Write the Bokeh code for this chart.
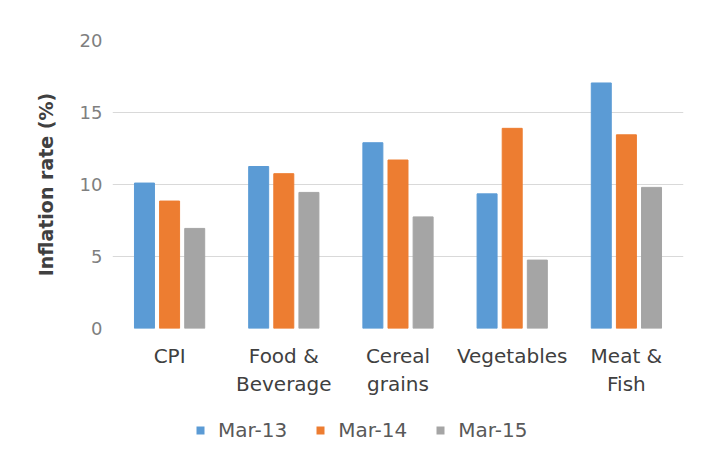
from bokeh.plotting import figure
from bokeh.models import ColumnDataSource, Range1d, FactorRange, Legend, LegendItem, FixedTicker
from bokeh.layouts import column
from bokeh.transform import dodge
from bokeh.embed import file_html
from bokeh.resources import INLINE

categories = ["CPI", "Food &\nBeverage", "Cereal\ngrains", "Vegetables", "Meat &\nFish"]
mar13 = [10.1, 11.25, 12.9, 9.35, 17.05]
mar14 = [8.85, 10.75, 11.7, 13.9, 13.45]
mar15 = [6.95, 9.45, 7.75, 4.75, 9.8]
series_names = ["Mar-13", "Mar-14", "Mar-15"]
y_ticks = [0, 5, 10, 15, 20]

colors = ["#5B9BD5", "#ED7D31", "#A5A5A5"]
font = "DejaVu Sans"

src = ColumnDataSource(dict(cat=categories, m13=mar13, m14=mar14, m15=mar15))

p = figure(width=696, height=399, x_range=FactorRange(*categories, range_padding=0),
           y_range=Range1d(0, 20), output_backend="svg", toolbar_location=None,
           min_border_left=112, min_border_right=13, min_border_top=40, min_border_bottom=64)
p.outline_line_color = None
p.background_fill_color = "white"
p.border_fill_color = "white"

for key, off, col in zip(["m13", "m14", "m15"], [-0.22, 0.0, 0.22], colors):
    p.vbar(x=dodge("cat", off, range=p.x_range), top=key, width=0.175, source=src,
           fill_color=col, line_color=col, line_width=1)

p.xgrid.grid_line_color = None
p.ygrid.grid_line_color = "#d9d9d9"
p.ygrid.grid_line_width = 1.2
p.yaxis.ticker = FixedTicker(ticks=y_ticks)

for ax in (p.xaxis[0], p.yaxis[0]):
    ax.axis_line_color = None
    ax.major_tick_line_color = None
    ax.minor_tick_line_color = None

p.yaxis.major_label_text_font = font
p.yaxis.major_label_text_font_size = "18px"
p.yaxis.major_label_text_color = "#7f7f7f"
p.yaxis.major_label_standoff = 4
p.yaxis.axis_label = "Inflation rate (%)"
p.yaxis.axis_label_text_font = font
p.yaxis.axis_label_text_font_size = "19px"
p.yaxis.axis_label_text_font_style = "bold"
p.yaxis.axis_label_text_color = "#404040"
p.yaxis.axis_label_standoff = 20

p.xaxis.major_label_text_font = font
p.xaxis.major_label_text_font_size = "20px"
p.xaxis.major_label_text_color = "#404040"
p.xaxis.major_label_standoff = 9

# legend in a separate strip below the chart (swatch-only helper glyphs of zero height)
lg = figure(width=696, height=49, x_range=Range1d(0, 1), y_range=Range1d(0, 1),
            x_axis_type=None, y_axis_type=None, output_backend="svg", toolbar_location=None,
            min_border=0)
lg.outline_line_color = None
lg.xgrid.grid_line_color = None
lg.ygrid.grid_line_color = None
items = []
for name, col in zip(series_names, colors):
    r = lg.vbar(x=[0.5], top=[0], bottom=[0], width=0.01, fill_color=col, line_alpha=0)
    items.append(LegendItem(label=name, renderers=[r]))

legend = Legend(items=items, orientation="horizontal", location=(83, 6),
                glyph_width=10, glyph_height=10, label_height=20, label_standoff=13, spacing=28,
                padding=0, margin=0, border_line_color=None, background_fill_alpha=0,
                label_text_font=font, label_text_font_size="20px", label_text_color="#595959")
lg.add_layout(legend, "center")

layout = column(p, lg, spacing=0)
open("out.html", "w").write(file_html(layout, INLINE))
